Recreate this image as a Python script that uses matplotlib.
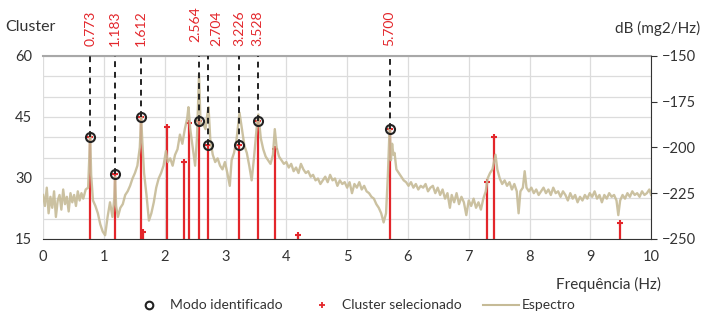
import numpy as np
import matplotlib
matplotlib.use("Agg")
import matplotlib.pyplot as plt
from matplotlib.lines import Line2D

plt.rcParams['font.family'] = ['Lato', 'DejaVu Sans']

# modos identificados (Hz) e valor do cluster
mode_f = [0.773, 1.183, 1.612, 2.564, 2.704, 3.226, 3.528, 5.700]
mode_v = [40, 31, 45, 44, 38, 38, 44, 42]
mode_lbl = ['0.773', '1.183', '1.612', '2.564', '2.704', '3.226', '3.528', '5.700']

# clusters selecionados (Hz) e altura
clus_f = [0.773, 1.183, 1.612, 1.65, 2.03, 2.32, 2.40, 2.564, 2.704, 3.226,
          3.528, 3.82, 4.20, 5.700, 7.30, 7.42, 9.48]
clus_v = [40, 31, 45, 16.8, 42.4, 34, 43.6, 44, 38, 38,
          44, 37, 16, 42, 29, 40, 19]

# espectro (Hz, dB)
spec_f = [0.00, 0.03, 0.06, 0.09, 0.12, 0.15, 0.18, 0.21, 0.24, 0.27, 0.30, 0.33,
          0.36, 0.39, 0.42, 0.45, 0.48, 0.51, 0.54, 0.57, 0.60, 0.63, 0.66, 0.70,
          0.74, 0.76, 0.773, 0.79, 0.82, 0.86, 0.90, 0.94, 0.98, 1.02, 1.06, 1.10,
          1.14, 1.17, 1.183, 1.20, 1.23, 1.27, 1.31, 1.35, 1.39, 1.43, 1.47, 1.51,
          1.55, 1.59, 1.612, 1.63, 1.66, 1.70, 1.74, 1.78, 1.82, 1.86, 1.90, 1.94,
          1.98, 2.02, 2.05, 2.09, 2.13, 2.17, 2.21, 2.25, 2.29, 2.33, 2.37, 2.39,
          2.42, 2.46, 2.50, 2.53, 2.564, 2.59, 2.63, 2.67, 2.70, 2.72, 2.75, 2.79,
          2.83, 2.87, 2.91, 2.95, 2.99, 3.03, 3.07, 3.10, 3.14, 3.18, 3.23, 3.27,
          3.31, 3.35, 3.39, 3.43, 3.47, 3.51, 3.54, 3.58, 3.62, 3.66, 3.70, 3.74,
          3.78, 3.81, 3.84, 3.88, 3.92, 3.96, 4.00, 4.04, 4.08, 4.12, 4.16, 4.20,
          4.24, 4.28, 4.32, 4.36, 4.40, 4.44, 4.48, 4.52, 4.56, 4.60, 4.64, 4.68,
          4.72, 4.76, 4.80, 4.84, 4.88, 4.92, 4.96, 5.00, 5.04, 5.08, 5.12, 5.16,
          5.20, 5.24, 5.28, 5.32, 5.36, 5.40, 5.44, 5.48, 5.52, 5.56, 5.60, 5.64,
          5.67, 5.70, 5.72, 5.74, 5.76, 5.78, 5.81, 5.85, 5.89, 5.93, 5.97, 6.01,
          6.05, 6.09, 6.13, 6.17, 6.21, 6.25, 6.29, 6.33, 6.37, 6.41, 6.45, 6.49,
          6.53, 6.57, 6.61, 6.65, 6.69, 6.72, 6.76, 6.80, 6.84, 6.88, 6.92, 6.96,
          7.00, 7.04, 7.08, 7.12, 7.16, 7.20, 7.24, 7.28, 7.31, 7.35, 7.39, 7.44,
          7.47, 7.51, 7.55, 7.59, 7.63, 7.67, 7.71, 7.75, 7.79, 7.82, 7.85, 7.89,
          7.92, 7.95, 7.99, 8.03, 8.07, 8.11, 8.15, 8.19, 8.23, 8.27, 8.31, 8.35,
          8.39, 8.43, 8.47, 8.51, 8.55, 8.59, 8.63, 8.67, 8.71, 8.75, 8.79, 8.83,
          8.87, 8.91, 8.95, 8.99, 9.03, 9.07, 9.11, 9.15, 9.19, 9.23, 9.27, 9.31,
          9.35, 9.39, 9.43, 9.46, 9.49, 9.53, 9.57, 9.61, 9.65, 9.69, 9.73, 9.77,
          9.81, 9.85, 9.89, 9.93, 9.97, 10.00]
spec_db = [-226, -232, -222, -236, -227, -233, -224, -238, -229, -226, -234, -223,
           -231, -227, -235, -225, -230, -226, -232, -224, -229, -225, -228, -223,
           -222, -205, -192, -215, -229, -232, -236, -242, -246, -248, -238, -230,
           -238, -228, -216, -232, -238, -233, -231, -226, -224, -221, -217, -214,
           -210, -200, -183, -196, -214, -226, -240, -236, -230, -222, -217, -214,
           -210, -202, -208, -206, -210, -204, -201, -193, -198, -190, -184, -178,
           -190, -200, -210, -195, -160, -188, -187, -190, -182, -178, -196, -204,
           -208, -206, -210, -212, -208, -214, -221, -207, -203, -196, -181, -190,
           -199, -203, -210, -218, -205, -190, -182, -195, -201, -205, -207, -209,
           -204, -190, -200, -205, -207, -209, -208, -211, -209, -213, -211, -214,
           -209, -212, -214, -213, -216, -215, -218, -217, -220, -218, -216, -219,
           -215, -218, -217, -221, -218, -220, -219, -222, -219, -225, -220, -222,
           -219, -223, -221, -224, -225, -227, -228, -231, -233, -236, -241, -236,
           -215, -188, -207, -198, -204, -203, -212, -214, -216, -218, -219, -221,
           -219, -222, -220, -223, -221, -222, -220, -224, -222, -221, -225, -222,
           -226, -223, -228, -225, -233, -226, -230, -225, -231, -227, -230, -237,
           -229, -232, -228, -233, -230, -234, -228, -224, -217, -214, -212, -204,
           -212, -217, -220, -218, -221, -219, -223, -220, -224, -236, -224, -222,
           -213, -222, -224, -222, -225, -223, -226, -224, -222, -225, -223, -226,
           -222, -225, -224, -227, -224, -226, -229, -225, -228, -226, -230, -227,
           -229, -226, -228, -225, -227, -224, -228, -226, -230, -226, -228, -225,
           -227, -226, -229, -237, -229, -226, -228, -225, -227, -224, -226, -225,
           -227, -224, -226, -225, -223, -226]

red = '#e3262b'
beige = '#c6bb97'
txt = '#333333'

fig = plt.figure(figsize=(7.07, 3.16), dpi=100)
ax = fig.add_axes([0.061, 0.244, 0.860, 0.579])
ax2 = ax.twinx()

# grade
ax.set_xlim(0, 10)
ax.set_ylim(15, 60)
ax.set_xticks(range(0, 11))
ax.set_yticks([15, 30, 45, 60])
ax.set_yticks(np.arange(15, 61, 5), minor=True)
ax.grid(True, which='both', color='#dcdcdc', lw=0.9)
ax.set_axisbelow(True)
ax.tick_params(axis='both', length=0, labelsize=10.5, colors=txt, pad=8)
ax.tick_params(axis='y', which='minor', length=0)
for s in ['left', 'right']:
    ax.spines[s].set_visible(False)
ax.spines['top'].set_color('#a8a8a8')
ax.spines['top'].set_linewidth(1.5)
ax.spines['bottom'].set_color('#333333')

# clusters (hastes)
ax.vlines(clus_f, 15, clus_v, color=red, lw=1.6, zorder=2)
ax.plot(clus_f, clus_v, ls='none', marker='+', ms=5, mew=1.5, color=red, zorder=3)

# espectro
ax2.set_ylim(-250, -150)
ax2.set_yticks([-250, -225, -200, -175, -150])
ax2.plot(spec_f, spec_db, color=beige, lw=1.7, alpha=0.9, zorder=2)
for s in ['left', 'top', 'bottom']:
    ax2.spines[s].set_visible(False)
ax2.spines['right'].set_color('#333333')
ax2.tick_params(axis='y', direction='out', length=4, labelsize=10.5, colors=txt, pad=4)

# modos
ax2.vlines(mode_f, mode_v, 60, colors='#222222', linestyles=(0, (3, 2.5)), lw=1.4,
           transform=ax.transData, zorder=4)
ax2.plot(mode_f, mode_v, ls='none', marker='o', ms=6.5, mfc='none', mec='#222222',
         mew=1.5, transform=ax.transData, zorder=5)
# deslocamento dos rotulos que ficariam sobrepostos (pontos)
lbl_dx = [0, 0, 0, -3, 6, 0, 0, 0]
lbl_dy = [7, 7, 7, 10, 7, 7, 7, 7]
for f, lb, dx, dy in zip(mode_f, mode_lbl, lbl_dx, lbl_dy):
    ax.annotate(lb, xy=(f, 60), xycoords='data', xytext=(dx, dy), textcoords='offset points',
                rotation=90, ha='center', va='bottom', color=red, fontsize=10,
                annotation_clip=False)

fig.text(0.008, 0.915, 'Cluster', fontsize=11.5, color=txt, ha='left', va='center')
fig.text(0.99, 0.91, 'dB (mg2/Hz)', fontsize=11, color=txt, ha='right', va='center')
fig.text(0.935, 0.10, 'Frequência (Hz)', fontsize=11, color=txt, ha='right', va='center')

handles = [Line2D([], [], ls='none', marker='o', ms=5.5, mfc='none', mec='#222222', mew=1.5),
           Line2D([], [], ls='none', marker='+', ms=4.5, mew=1.3, color=red),
           Line2D([], [], color=beige, lw=1.5)]
fig.legend(handles, ['Modo identificado', 'Cluster selecionado', 'Espectro'],
           loc='lower center', bbox_to_anchor=(0.50, -0.025), ncol=3, frameon=False,
           fontsize=10, handlelength=2.6, handletextpad=0.2, columnspacing=1.5,
           labelcolor=txt)

fig.savefig('out.png', dpi=100)
